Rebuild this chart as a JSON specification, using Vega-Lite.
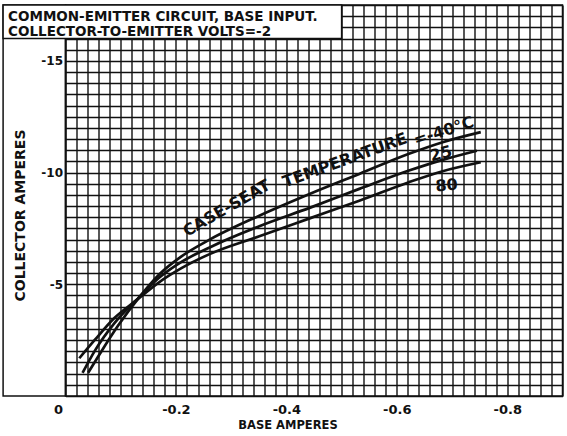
{
  "$schema": "https://vega.github.io/schema/vega-lite/v6.json",
  "width": 497,
  "height": 391,
  "padding": {"left": 1.5, "top": 4, "right": 4, "bottom": 0},
  "background": "white",
  "config": {
    "view": {"stroke": "#111", "strokeWidth": 1.5},
    "font": "DejaVu Sans",
    "axis": {
      "grid": true,
      "gridColor": "#111",
      "gridWidth": 1.4,
      "gridOpacity": 1,
      "domain": false,
      "ticks": false,
      "labelColor": "#111",
      "titleColor": "#111",
      "labelFont": "DejaVu Sans",
      "titleFont": "DejaVu Sans",
      "labelFontWeight": "bold",
      "titleFontWeight": "bold",
      "labelOverlap": false
    },
    "axisX": {"labelFontSize": 13, "titleFontSize": 11.5, "labelPadding": 7, "titlePadding": 3},
    "axisY": {"labelFontSize": 12, "titleFontSize": 14, "labelPadding": 3, "titlePadding": 13, "labelFlush": true},
    "text": {"font": "DejaVu Sans", "fill": "#111", "fontWeight": "bold"}
  },
  "datasets": {
    "curves": [
      {"temp": "-40", "ib": -0.041, "ic": -1.04},
      {"temp": "-40", "ib": -0.062, "ic": -1.88},
      {"temp": "-40", "ib": -0.095, "ic": -3.14},
      {"temp": "-40", "ib": -0.133, "ic": -4.40},
      {"temp": "-40", "ib": -0.17, "ic": -5.45},
      {"temp": "-40", "ib": -0.21, "ic": -6.25},
      {"temp": "-40", "ib": -0.261, "ic": -7.0},
      {"temp": "-40", "ib": -0.351, "ic": -8.07},
      {"temp": "-40", "ib": -0.442, "ic": -9.04},
      {"temp": "-40", "ib": -0.532, "ic": -9.94},
      {"temp": "-40", "ib": -0.622, "ic": -10.84},
      {"temp": "-40", "ib": -0.683, "ic": -11.36},
      {"temp": "-40", "ib": -0.752, "ic": -11.81},
      {"temp": "25", "ib": -0.031, "ic": -1.04},
      {"temp": "25", "ib": -0.053, "ic": -2.02},
      {"temp": "25", "ib": -0.089, "ic": -3.27},
      {"temp": "25", "ib": -0.131, "ic": -4.36},
      {"temp": "25", "ib": -0.17, "ic": -5.3},
      {"temp": "25", "ib": -0.21, "ic": -6.0},
      {"temp": "25", "ib": -0.261, "ic": -6.65},
      {"temp": "25", "ib": -0.351, "ic": -7.6},
      {"temp": "25", "ib": -0.442, "ic": -8.42},
      {"temp": "25", "ib": -0.532, "ic": -9.27},
      {"temp": "25", "ib": -0.622, "ic": -10.09},
      {"temp": "25", "ib": -0.683, "ic": -10.57},
      {"temp": "25", "ib": -0.745, "ic": -10.98},
      {"temp": "80", "ib": -0.025, "ic": -1.69},
      {"temp": "80", "ib": -0.053, "ic": -2.51},
      {"temp": "80", "ib": -0.089, "ic": -3.50},
      {"temp": "80", "ib": -0.129, "ic": -4.30},
      {"temp": "80", "ib": -0.17, "ic": -5.1},
      {"temp": "80", "ib": -0.21, "ic": -5.72},
      {"temp": "80", "ib": -0.261, "ic": -6.35},
      {"temp": "80", "ib": -0.351, "ic": -7.15},
      {"temp": "80", "ib": -0.442, "ic": -7.95},
      {"temp": "80", "ib": -0.532, "ic": -8.74},
      {"temp": "80", "ib": -0.622, "ic": -9.57},
      {"temp": "80", "ib": -0.683, "ic": -10.06},
      {"temp": "80", "ib": -0.752, "ic": -10.46}
    ],
    "one": [{}]
  },
  "layer": [
    {
      "data": {"name": "curves"},
      "mark": {"type": "line", "stroke": "#111", "strokeWidth": 2.7, "interpolate": "monotone"},
      "encoding": {
        "x": {
          "field": "ib", "type": "quantitative",
          "scale": {"domain": [0, -0.9], "nice": false, "zero": false},
          "axis": {"tickCount": 45, "labelExpr": "round(datum.value * 50) % 10 == 0 ? (datum.value == 0 ? '0' : '-' + format(-datum.value, '.1f')) : ''", "labelAlign": {"condition": {"test": "datum.value == 0", "value": "right"}, "value": "center"}, "labelOffset": {"condition": {"test": "datum.value == 0", "value": -3}, "value": 0}, "title": "BASE AMPERES", "titleX": 222}
        },
        "y": {
          "field": "ic", "type": "quantitative",
          "scale": {"domain": [0, -17.5], "nice": false, "zero": false},
          "axis": {"tickCount": 35, "labelExpr": "datum.value != 0 && round(datum.value * 2) % 10 == 0 ? '-' + format(-datum.value, 'd') : ''", "title": "COLLECTOR AMPERES", "titleY": 210}
        },
        "detail": {"field": "temp", "type": "nominal"},
        "order": {"field": "ib", "sort": "descending"}
      }
    },
    {
      "data": {"name": "one"},
      "mark": {"type": "rect", "fill": null, "stroke": "#111", "strokeWidth": 1.5},
      "encoding": {
        "x": {"datum": 0.113, "type": "quantitative", "axis": {"tickCount": 45, "labelExpr": "round(datum.value * 50) % 10 == 0 ? (datum.value == 0 ? '0' : '-' + format(-datum.value, '.1f')) : ''", "labelAlign": {"condition": {"test": "datum.value == 0", "value": "right"}, "value": "center"}, "labelOffset": {"condition": {"test": "datum.value == 0", "value": -3}, "value": 0}, "title": "BASE AMPERES", "titleX": 222}},
        "x2": {"datum": 0},
        "y": {"datum": 0, "type": "quantitative", "axis": {"tickCount": 35, "labelExpr": "datum.value != 0 && round(datum.value * 2) % 10 == 0 ? '-' + format(-datum.value, 'd') : ''", "title": "COLLECTOR AMPERES", "titleY": 210}},
        "y2": {"datum": -17.5}
      }
    },
    {
      "data": {"name": "one"},
      "mark": {"type": "rect", "fill": "white", "stroke": "#111", "strokeWidth": 1.5},
      "encoding": {
        "x": {"datum": 0.113, "type": "quantitative", "axis": {"tickCount": 45, "labelExpr": "round(datum.value * 50) % 10 == 0 ? (datum.value == 0 ? '0' : '-' + format(-datum.value, '.1f')) : ''", "labelAlign": {"condition": {"test": "datum.value == 0", "value": "right"}, "value": "center"}, "labelOffset": {"condition": {"test": "datum.value == 0", "value": -3}, "value": 0}, "title": "BASE AMPERES", "titleX": 222}},
        "x2": {"datum": -0.5},
        "y": {"datum": -16, "type": "quantitative", "axis": {"tickCount": 35, "labelExpr": "datum.value != 0 && round(datum.value * 2) % 10 == 0 ? '-' + format(-datum.value, 'd') : ''", "title": "COLLECTOR AMPERES", "titleY": 210}},
        "y2": {"datum": -17.5}
      }
    },
    {
      "data": {"name": "one"},
      "mark": {"type": "text", "align": "left", "baseline": "middle", "fontSize": 13.5, "lineHeight": 14.5, "lineBreak": "\n", "text": "COMMON-EMITTER CIRCUIT, BASE INPUT.\nCOLLECTOR-TO-EMITTER  VOLTS=-2"},
      "encoding": {
        "x": {"datum": 0.104, "type": "quantitative", "axis": {"tickCount": 45, "labelExpr": "round(datum.value * 50) % 10 == 0 ? (datum.value == 0 ? '0' : '-' + format(-datum.value, '.1f')) : ''", "labelAlign": {"condition": {"test": "datum.value == 0", "value": "right"}, "value": "center"}, "labelOffset": {"condition": {"test": "datum.value == 0", "value": -3}, "value": 0}, "title": "BASE AMPERES", "titleX": 222}},
        "y": {"datum": -16.95, "type": "quantitative", "axis": {"tickCount": 35, "labelExpr": "datum.value != 0 && round(datum.value * 2) % 10 == 0 ? '-' + format(-datum.value, 'd') : ''", "title": "COLLECTOR AMPERES", "titleY": 210}}
      }
    },
    {
      "data": {"name": "one"},
      "mark": {"type": "text", "align": "center", "baseline": "middle", "fontSize": 16, "angle": -30, "text": "CASE-SEAT"},
      "encoding": {
        "x": {"datum": -0.292, "type": "quantitative", "axis": {"tickCount": 45, "labelExpr": "round(datum.value * 50) % 10 == 0 ? (datum.value == 0 ? '0' : '-' + format(-datum.value, '.1f')) : ''", "labelAlign": {"condition": {"test": "datum.value == 0", "value": "right"}, "value": "center"}, "labelOffset": {"condition": {"test": "datum.value == 0", "value": -3}, "value": 0}, "title": "BASE AMPERES", "titleX": 222}},
        "y": {"datum": -8.4, "type": "quantitative", "axis": {"tickCount": 35, "labelExpr": "datum.value != 0 && round(datum.value * 2) % 10 == 0 ? '-' + format(-datum.value, 'd') : ''", "title": "COLLECTOR AMPERES", "titleY": 210}}
      }
    },
    {
      "data": {"name": "one"},
      "mark": {"type": "text", "align": "center", "baseline": "middle", "fontSize": 16, "angle": -20, "text": "TEMPERATURE"},
      "encoding": {
        "x": {"datum": -0.506, "type": "quantitative", "axis": {"tickCount": 45, "labelExpr": "round(datum.value * 50) % 10 == 0 ? (datum.value == 0 ? '0' : '-' + format(-datum.value, '.1f')) : ''", "labelAlign": {"condition": {"test": "datum.value == 0", "value": "right"}, "value": "center"}, "labelOffset": {"condition": {"test": "datum.value == 0", "value": -3}, "value": 0}, "title": "BASE AMPERES", "titleX": 222}},
        "y": {"datum": -10.55, "type": "quantitative", "axis": {"tickCount": 35, "labelExpr": "datum.value != 0 && round(datum.value * 2) % 10 == 0 ? '-' + format(-datum.value, 'd') : ''", "title": "COLLECTOR AMPERES", "titleY": 210}}
      }
    },
    {
      "data": {"name": "one"},
      "mark": {"type": "text", "align": "center", "baseline": "middle", "fontSize": 16, "angle": -18, "text": "=-40°C"},
      "encoding": {
        "x": {"datum": -0.685, "type": "quantitative", "axis": {"tickCount": 45, "labelExpr": "round(datum.value * 50) % 10 == 0 ? (datum.value == 0 ? '0' : '-' + format(-datum.value, '.1f')) : ''", "labelAlign": {"condition": {"test": "datum.value == 0", "value": "right"}, "value": "center"}, "labelOffset": {"condition": {"test": "datum.value == 0", "value": -3}, "value": 0}, "title": "BASE AMPERES", "titleX": 222}},
        "y": {"datum": -11.85, "type": "quantitative", "axis": {"tickCount": 35, "labelExpr": "datum.value != 0 && round(datum.value * 2) % 10 == 0 ? '-' + format(-datum.value, 'd') : ''", "title": "COLLECTOR AMPERES", "titleY": 210}}
      }
    },
    {
      "data": {"name": "one"},
      "mark": {"type": "text", "align": "center", "baseline": "middle", "fontSize": 16, "angle": -15, "text": "25"},
      "encoding": {
        "x": {"datum": -0.68, "type": "quantitative", "axis": {"tickCount": 45, "labelExpr": "round(datum.value * 50) % 10 == 0 ? (datum.value == 0 ? '0' : '-' + format(-datum.value, '.1f')) : ''", "labelAlign": {"condition": {"test": "datum.value == 0", "value": "right"}, "value": "center"}, "labelOffset": {"condition": {"test": "datum.value == 0", "value": -3}, "value": 0}, "title": "BASE AMPERES", "titleX": 222}},
        "y": {"datum": -10.84, "type": "quantitative", "axis": {"tickCount": 35, "labelExpr": "datum.value != 0 && round(datum.value * 2) % 10 == 0 ? '-' + format(-datum.value, 'd') : ''", "title": "COLLECTOR AMPERES", "titleY": 210}}
      }
    },
    {
      "data": {"name": "one"},
      "mark": {"type": "text", "align": "center", "baseline": "middle", "fontSize": 16, "angle": -5, "text": "80"},
      "encoding": {
        "x": {"datum": -0.69, "type": "quantitative", "axis": {"tickCount": 45, "labelExpr": "round(datum.value * 50) % 10 == 0 ? (datum.value == 0 ? '0' : '-' + format(-datum.value, '.1f')) : ''", "labelAlign": {"condition": {"test": "datum.value == 0", "value": "right"}, "value": "center"}, "labelOffset": {"condition": {"test": "datum.value == 0", "value": -3}, "value": 0}, "title": "BASE AMPERES", "titleX": 222}},
        "y": {"datum": -9.42, "type": "quantitative", "axis": {"tickCount": 35, "labelExpr": "datum.value != 0 && round(datum.value * 2) % 10 == 0 ? '-' + format(-datum.value, 'd') : ''", "title": "COLLECTOR AMPERES", "titleY": 210}}
      }
    }
  ]
}
